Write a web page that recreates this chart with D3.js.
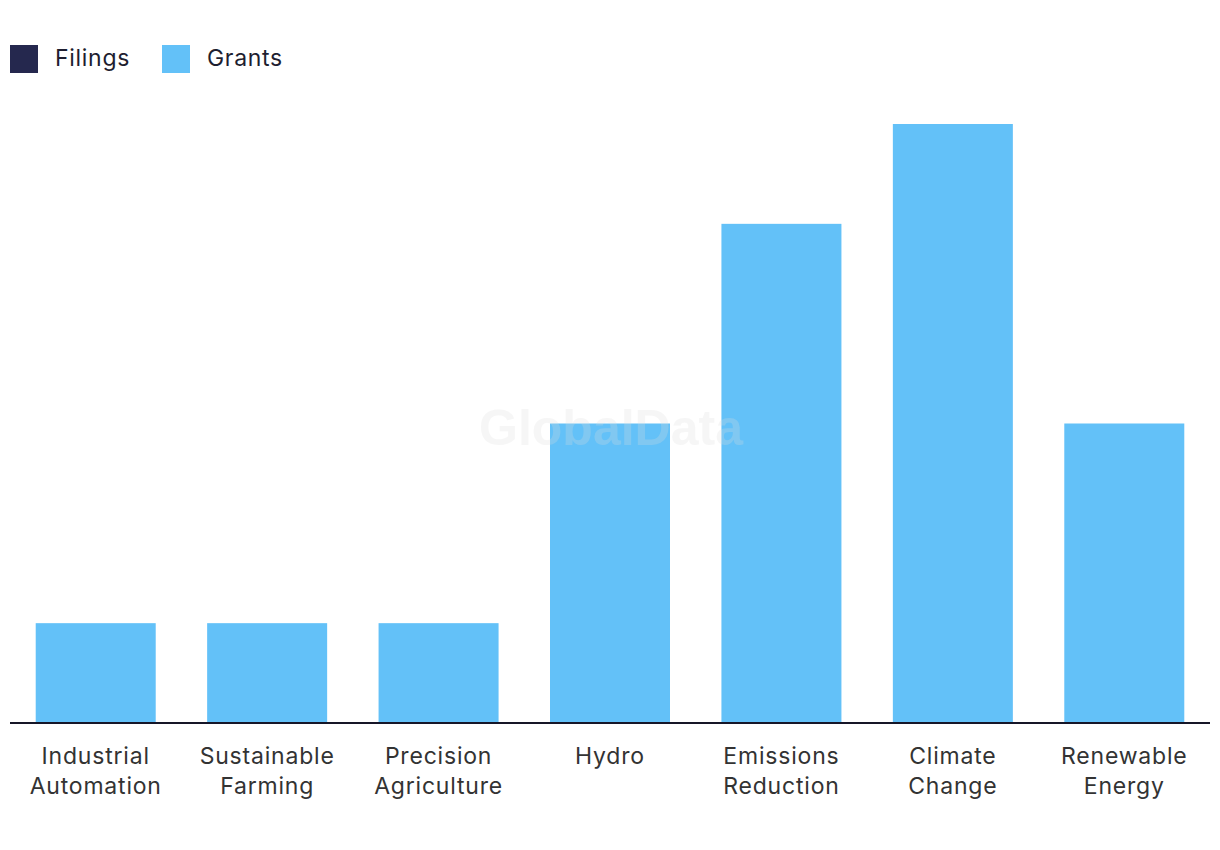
<!DOCTYPE html>
<html><head><meta charset="utf-8">
<script src="https://cdn.jsdelivr.net/npm/d3@7"></script>
<style>body{margin:0;background:#fff;} svg{display:block;}</style>
</head><body>
<svg id="chart" width="1220" height="850"></svg>
<script>
const categories = [["Industrial","Automation"],["Sustainable","Farming"],["Precision","Agriculture"],["Hydro"],["Emissions","Reduction"],["Climate","Change"],["Renewable","Energy"]];
const filings = [0,0,0,0,0,0,0];
const grants = [1,1,1,3,5,6,3];
const seriesNames = ["Filings","Grants"];
const colors = ["#25284e","#63c1f8"];

const svg = d3.select("#chart");
const font = "Inter, 'Noto Sans', sans-serif";
const keys = categories.map(c => c.join(" "));
const data = keys.map((k,i)=>({key:k, Filings:filings[i], Grants:grants[i]}));

const x = d3.scaleBand().domain(keys).range([10,1210]).paddingInner(0.3).paddingOuter(0.15);
const y = d3.scaleLinear().domain([0,6]).range([723,124]);

const stack = d3.stack().keys(seriesNames)(data);
svg.append("g").selectAll("g").data(stack).join("g")
  .attr("fill",(d,i)=>colors[i])
  .selectAll("rect").data(d=>d).join("rect")
  .attr("x",d=>x(d.data.key)).attr("width",x.bandwidth())
  .attr("y",d=>y(d[1])).attr("height",d=>y(d[0])-y(d[1]));

// watermark
svg.append("text").attr("x",611).attr("y",445).attr("text-anchor","middle")
  .attr("font-family","Arial, 'Liberation Sans', sans-serif").attr("font-weight","bold")
  .attr("font-size",50).attr("fill","#dddddd").attr("opacity",0.25).text("GlobalData");

// axis
const ax = svg.append("g").attr("transform","translate(0,723)")
  .call(d3.axisBottom(x).tickSize(0).tickFormat(""));
ax.select(".domain").attr("stroke","#161628").attr("stroke-width",2).attr("d","M10,0H1210");

const lab = svg.append("g");
categories.forEach((c,i)=>{
  const cx = x(keys[i])+x.bandwidth()/2;
  const t = lab.append("text").attr("x",cx).attr("y",764)
    .attr("text-anchor","middle").attr("font-family",font).attr("font-size",23)
    .attr("letter-spacing","0.8px").attr("fill","#333333");
  c.forEach((line,j)=>t.append("tspan").attr("x",cx).attr("dy",j?30:0).text(line));
});

// legend
const legX = [10,162];
seriesNames.forEach((s,i)=>{
  svg.append("rect").attr("x",legX[i]).attr("y",45).attr("width",28).attr("height",28).attr("fill",colors[i]);
  svg.append("text").attr("x",legX[i]+45).attr("y",66).attr("font-family",font).attr("font-size",23)
    .attr("letter-spacing","0.7px").attr("fill","#1e1e30").text(s);
});
</script>
</body></html>
